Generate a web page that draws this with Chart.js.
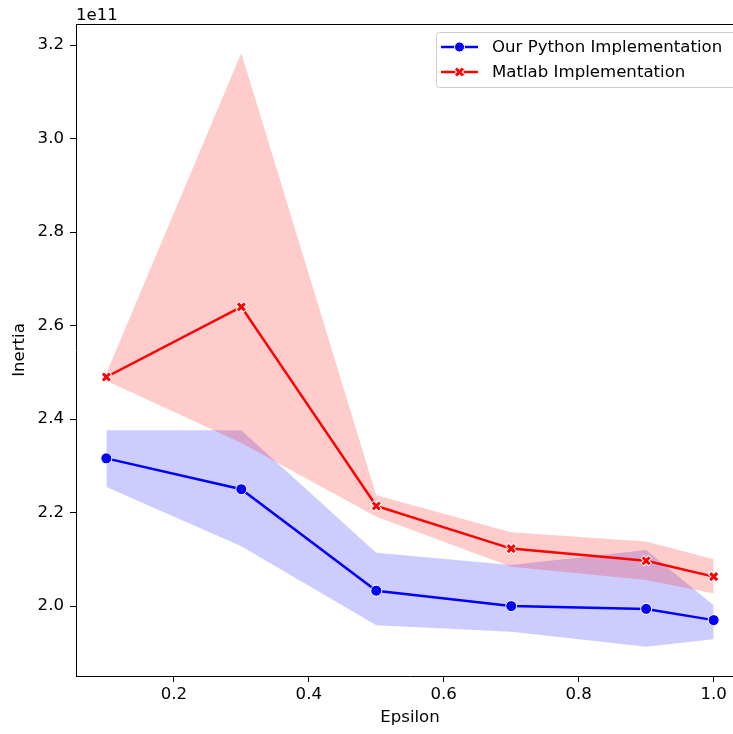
<!DOCTYPE html>
<html>
<head>
<meta charset="utf-8">
<script src="https://cdn.jsdelivr.net/npm/chart.js@4/dist/chart.umd.min.js"></script>
<style>
html,body{margin:0;padding:0;background:#fff;overflow:hidden;}
#wrap{width:733px;height:734px;overflow:hidden;position:relative;}
#c{position:absolute;left:0;top:0;}
</style>
</head>
<body>
<div id="wrap"><canvas id="c" width="760" height="734"></canvas></div>
<script>
// Data (Inertia values, in absolute units)
const epsilon = [0.1, 0.3, 0.5, 0.7, 0.9, 1.0];
const pythonMean  = [2.316e11, 2.250e11, 2.033e11, 2.000e11, 1.994e11, 1.970e11];
const pythonUpper = [2.376e11, 2.376e11, 2.114e11, 2.088e11, 2.120e11, 2.002e11];
const pythonLower = [2.255e11, 2.128e11, 1.959e11, 1.945e11, 1.913e11, 1.929e11];
const matlabMean  = [2.490e11, 2.640e11, 2.214e11, 2.123e11, 2.097e11, 2.063e11];
const matlabUpper = [2.498e11, 3.183e11, 2.237e11, 2.158e11, 2.138e11, 2.100e11];
const matlabLower = [2.482e11, 2.349e11, 2.191e11, 2.084e11, 2.056e11, 2.027e11];
const xTicks = [0.2, 0.4, 0.6, 0.8, 1.0];
const yTicks = [2.0e11, 2.2e11, 2.4e11, 2.6e11, 2.8e11, 3.0e11, 3.2e11];
const seriesNames = ['Our Python Implementation', 'Matlab Implementation'];

const pts = arr => epsilon.map((x, i) => ({x: x, y: arr[i]}));
const FONT = 'DejaVu Sans';
const FS = 16.6;

const bandDs = (data, color, fillTarget, order) => ({
  data: pts(data), borderWidth: 0, pointRadius: 0, pointHoverRadius: 0,
  backgroundColor: color, fill: fillTarget, order: order, tension: 0
});

function drawX(ctx, x, y, r, color) {
  ctx.save();
  ctx.lineCap = 'butt';
  ctx.strokeStyle = '#fff';
  ctx.lineWidth = 5;
  ctx.beginPath();
  ctx.moveTo(x - r - 0.6, y - r - 0.6); ctx.lineTo(x + r + 0.6, y + r + 0.6);
  ctx.moveTo(x - r - 0.6, y + r + 0.6); ctx.lineTo(x + r + 0.6, y - r - 0.6);
  ctx.stroke();
  ctx.strokeStyle = color;
  ctx.lineWidth = 3;
  ctx.beginPath();
  ctx.moveTo(x - r, y - r); ctx.lineTo(x + r, y + r);
  ctx.moveTo(x - r, y + r); ctx.lineTo(x + r, y - r);
  ctx.stroke();
  ctx.restore();
}

const decorations = {
  id: 'decorations',
  afterDraw(chart) {
    const ctx = chart.ctx, a = chart.chartArea;
    ctx.save();
    ctx.strokeStyle = '#000';
    ctx.lineWidth = 1;
    ctx.beginPath();
    ctx.moveTo(a.left, a.top + 0.5);
    ctx.lineTo(a.right, a.top + 0.5);
    ctx.moveTo(a.right - 0.5, a.top);
    ctx.lineTo(a.right - 0.5, a.bottom);
    ctx.stroke();
    // offset text
    ctx.fillStyle = '#000';
    ctx.font = FS + 'px "' + FONT + '"';
    ctx.textAlign = 'left';
    ctx.textBaseline = 'alphabetic';
    ctx.fillText('1e11', a.left, a.top - 4);
    // legend
    const lx = 436, ly = 32, lw = 320, lh = 55;
    ctx.fillStyle = 'rgba(255,255,255,0.8)';
    ctx.strokeStyle = '#cccccc';
    ctx.lineWidth = 1;
    ctx.beginPath();
    if (ctx.roundRect) ctx.roundRect(lx + 0.5, ly + 0.5, lw, lh, 3); else ctx.rect(lx + 0.5, ly + 0.5, lw, lh);
    ctx.fill();
    ctx.stroke();
    const items = [
      {name: seriesNames[0], color: '#0000ff', marker: 'circle', y: 47},
      {name: seriesNames[1], color: '#ff0000', marker: 'x', y: 72}
    ];
    items.forEach(it => {
      ctx.strokeStyle = it.color;
      ctx.lineWidth = 2.5;
      ctx.beginPath();
      ctx.moveTo(441, it.y);
      ctx.lineTo(478, it.y);
      ctx.stroke();
      if (it.marker === 'circle') {
        ctx.fillStyle = it.color;
        ctx.strokeStyle = '#fff';
        ctx.lineWidth = 1;
        ctx.beginPath();
        ctx.arc(459.5, it.y, 5, 0, Math.PI * 2);
        ctx.fill();
        ctx.stroke();
      } else {
        drawX(ctx, 459.5, it.y, 3.5, it.color);
      }
      ctx.fillStyle = '#000';
      ctx.font = FS + 'px "' + FONT + '"';
      ctx.textBaseline = 'middle';
      ctx.textAlign = 'left';
      ctx.fillText(it.name, 492, it.y + 1);
    });
    ctx.restore();
  }
};

const xMarkers = {
  id: 'xMarkers',
  afterDatasetsDraw(chart) {
    const meta = chart.getDatasetMeta(5);
    meta.data.forEach(p => drawX(chart.ctx, p.x, p.y, 3.5, '#ff0000'));
  }
};

new Chart(document.getElementById('c'), {
  type: 'line',
  data: {
    datasets: [
      bandDs(pythonUpper, 'rgba(0,0,255,0.2)', 1, 3),
      bandDs(pythonLower, 'rgba(0,0,0,0)', false, 5),
      bandDs(matlabUpper, 'rgba(255,0,0,0.2)', 3, 2),
      bandDs(matlabLower, 'rgba(0,0,0,0)', false, 6),
      {
        label: seriesNames[0], data: pts(pythonMean), borderColor: '#0000ff', borderWidth: 2.5,
        pointRadius: 5.5, pointBackgroundColor: '#0000ff', pointBorderColor: '#ffffff', pointBorderWidth: 1,
        fill: false, order: 1, tension: 0
      },
      {
        label: seriesNames[1], data: pts(matlabMean), borderColor: '#ff0000', borderWidth: 2.5,
        pointRadius: 0, fill: false, order: 0, tension: 0
      }
    ]
  },
  options: {
    responsive: false,
    animation: false,
    events: [],
    layout: {padding: {left: 0, top: 24, right: 16, bottom: 0}},
    plugins: {legend: {display: false}, tooltip: {enabled: false}},
    scales: {
      x: {
        type: 'linear', min: 0.055, max: 1.045,
        afterBuildTicks: s => { s.ticks = xTicks.map(v => ({value: v})); },
        afterFit: s => { s.height = 58; },
        grid: {display: true, drawOnChartArea: false, drawTicks: true, tickLength: 6, color: '#000', tickColor: '#000'},
        border: {display: true, color: '#000', width: 1},
        ticks: {color: '#000', font: {family: FONT, size: FS}, padding: 3, maxRotation: 0,
                callback: v => Number(v).toFixed(1)},
        title: {display: true, text: 'Epsilon', color: '#000', font: {family: FONT, size: FS}, padding: {top: 0, bottom: 6}}
      },
      y: {
        type: 'linear', min: 1.8505e11, max: 3.245e11,
        afterBuildTicks: s => { s.ticks = yTicks.map(v => ({value: v})); },
        afterFit: s => { s.width = 76; },
        grid: {display: true, drawOnChartArea: false, drawTicks: true, tickLength: 6, color: '#000', tickColor: '#000'},
        border: {display: true, color: '#000', width: 1},
        ticks: {color: '#000', font: {family: FONT, size: FS}, padding: 6,
                callback: v => (v / 1e11).toFixed(1)},
        title: {display: true, text: 'Inertia', color: '#000', font: {family: FONT, size: FS}, padding: {top: 10, bottom: 0}}
      }
    }
  },
  plugins: [decorations, xMarkers]
});
</script>
</body>
</html>
